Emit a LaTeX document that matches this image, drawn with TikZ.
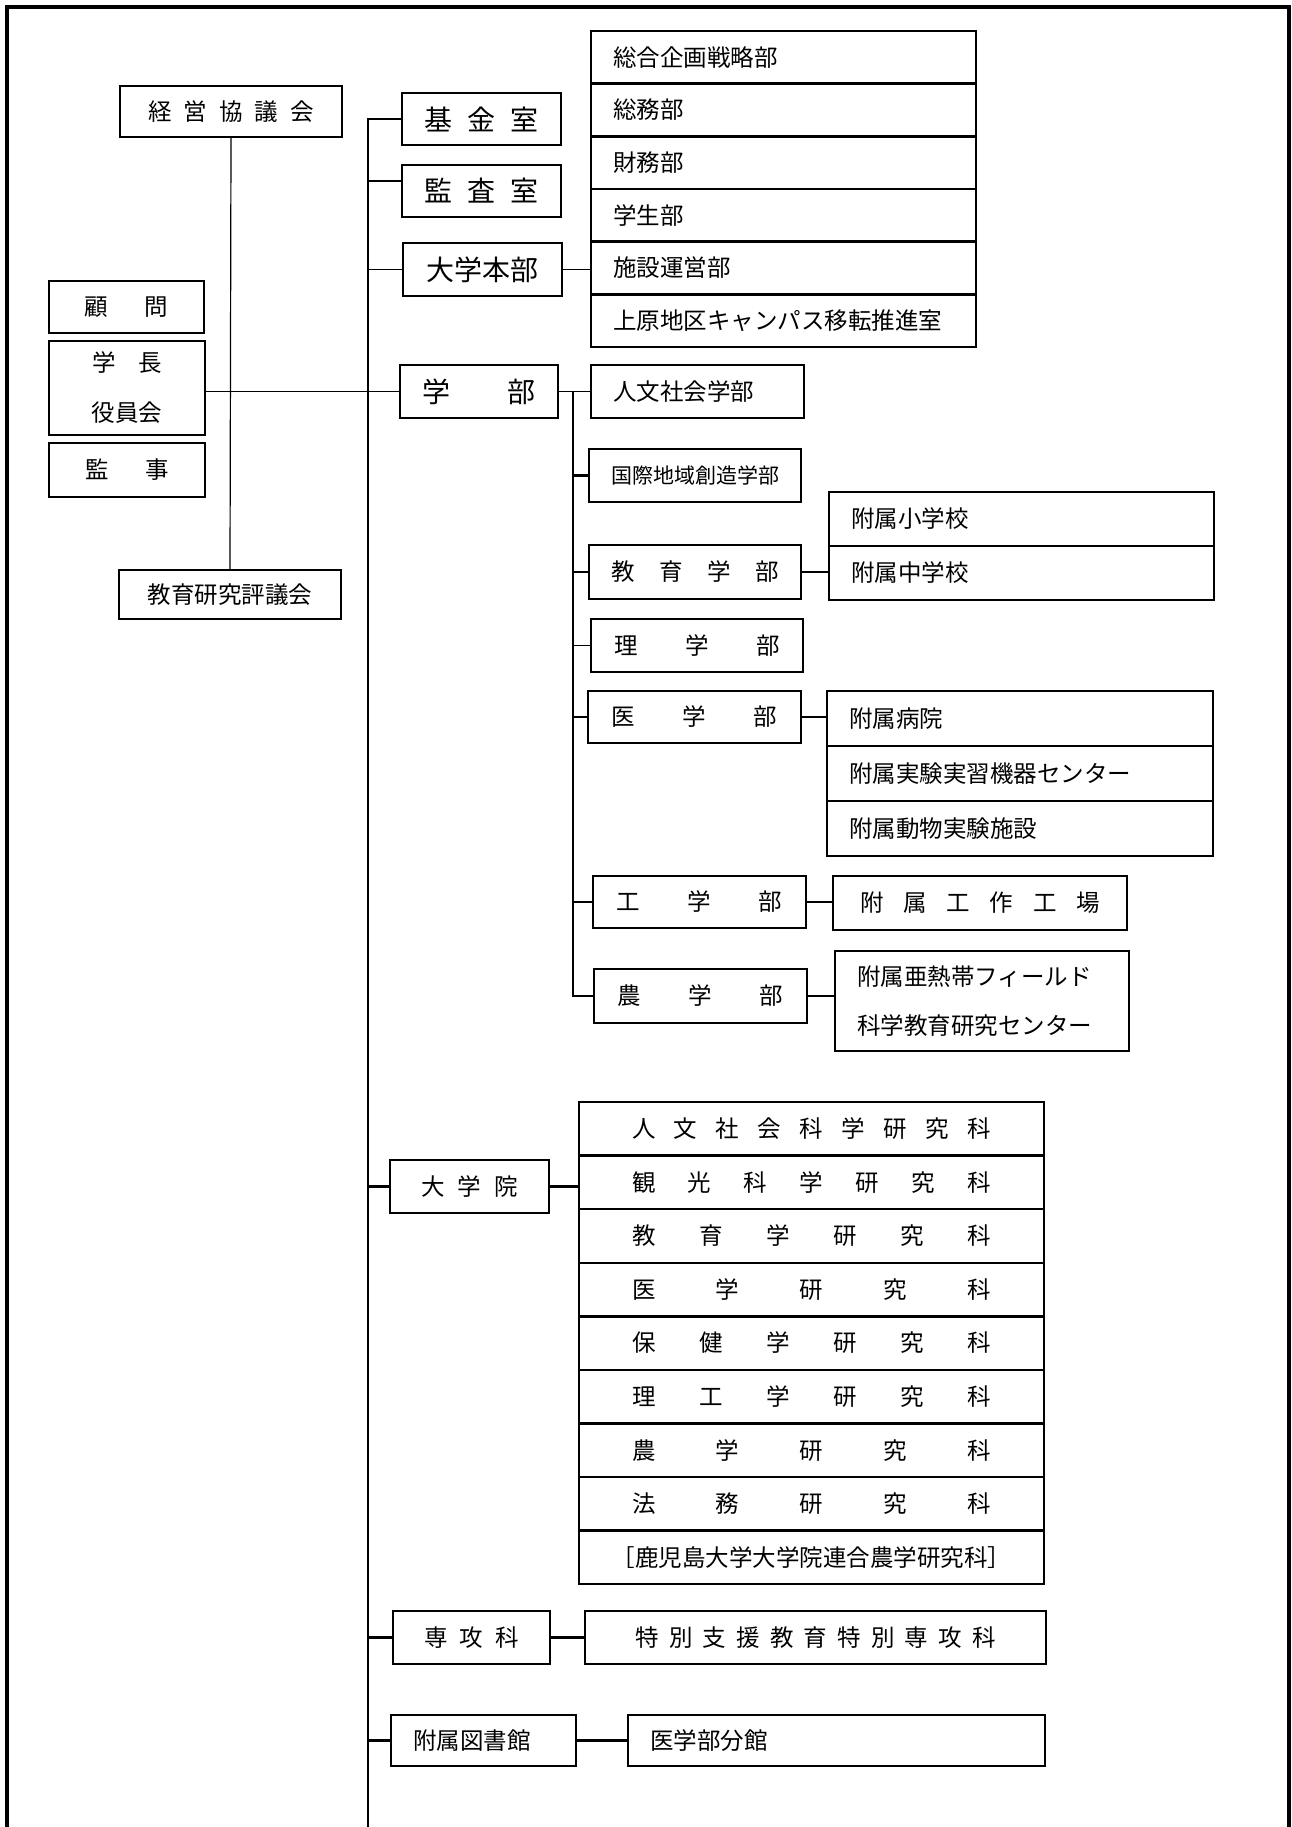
\documentclass[tikz,border=0pt]{standalone}
\usepackage{fontspec}
\setmainfont{Noto Sans CJK JP}

\tikzset{
  box/.style={draw=black, line width=2.4pt, inner sep=0pt, font=\fontsize{23.5}{28}\selectfont},
  bigbox/.style={box, font=\fontsize{28}{32}\selectfont},
  smallbox/.style={box, font=\fontsize{21}{26}\selectfont},
  lbox/.style={box, inner xsep=22pt, text width=#1, align=left},
  conn/.style={line width=2.2pt},
  thinconn/.style={line width=1.2pt},
}
\newcommand{\spreadtext}[2]{\makebox[#1]{#2}}

\begin{document}
\begin{tikzpicture}[x=1pt,y=-1pt]

\useasboundingbox (0,0) rectangle (1292,1827);
\draw[line width=4.5pt] (7,1827) -- (7,7) -- (1289,7) -- (1289,1827);

\node[box, minimum width=222pt, minimum height=51pt] (keiei) at (231,111.5) {\spreadtext{166pt}{経\hfill 営\hfill 協\hfill 議\hfill 会}};
\node[box, minimum width=155pt, minimum height=52pt] (komon) at (126.5,307) {\spreadtext{84pt}{顧\hfill 問}};
\node[box, minimum width=156pt, minimum height=94pt, align=center, font=\fontsize{23.5}{50}\selectfont] (gakucho) at (127,388) {\spreadtext{70pt}{学\hfill 長}\\役員会};
\node[box, minimum width=156pt, minimum height=54pt] (kanji) at (127,470) {\spreadtext{84pt}{監\hfill 事}};
\node[box, minimum width=222pt, minimum height=49pt] (hyogi) at (230,594.5) {教育研究評議会};

\node[bigbox, minimum width=159pt, minimum height=52pt] (kikin) at (481.5,119) {\spreadtext{114pt}{基\hfill 金\hfill 室}};
\node[bigbox, minimum width=159pt, minimum height=52pt] (kansa) at (481.5,191) {\spreadtext{114pt}{監\hfill 査\hfill 室}};
\node[bigbox, minimum width=159pt, minimum height=53pt] (honbu) at (482.5,269.5) {大学本部};
\node[bigbox, minimum width=158pt, minimum height=53pt] (gakubu) at (479,391.5) {\spreadtext{114pt}{学\hfill 部}};

\node[lbox=341pt, minimum height=52.7pt] (senryaku) at (783.5,57.3) {総合企画戦略部};
\node[lbox=341pt, minimum height=52.7pt] (somu) at (783.5,110) {総務部};
\node[lbox=341pt, minimum height=52.7pt] (zaimu) at (783.5,162.6) {財務部};
\node[lbox=341pt, minimum height=52.7pt] (gakusei) at (783.5,215.3) {学生部};
\node[lbox=341pt, minimum height=52.7pt] (shisetsu) at (783.5,268) {施設運営部};
\node[lbox=341pt, minimum height=52.7pt] (uehara) at (783.5,320.7) {上原地区キャンパス移転推進室};

\node[lbox=169pt, minimum height=53pt] (jinbun) at (697.5,391.5) {人文社会学部};
\node[lbox=168pt, smallbox, inner xsep=22pt, minimum height=53pt] (kokusai) at (695,475.5) {国際地域創造学部};
\node[box, minimum width=212pt, minimum height=54pt] (kyoiku) at (695,572) {\spreadtext{168pt}{教\hfill 育\hfill 学\hfill 部}};
\node[box, minimum width=212pt, minimum height=53pt] (rigaku) at (697,645.5) {\spreadtext{166pt}{理\hfill 学\hfill 部}};
\node[box, minimum width=213pt, minimum height=52pt] (igaku) at (694.5,717) {\spreadtext{166pt}{医\hfill 学\hfill 部}};
\node[box, minimum width=213pt, minimum height=52pt] (kogaku) at (699.5,902) {\spreadtext{166pt}{工\hfill 学\hfill 部}};
\node[box, minimum width=213pt, minimum height=54pt] (nogaku) at (700.5,996) {\spreadtext{166pt}{農\hfill 学\hfill 部}};

\node[lbox=341pt, minimum height=54pt] (shogaku) at (1021.5,519) {附属小学校};
\node[lbox=341pt, minimum height=54pt] (chugaku) at (1021.5,573) {附属中学校};

\node[lbox=342pt, minimum height=55pt] (byoin) at (1020,718.5) {附属病院};
\node[lbox=342pt, minimum height=55pt] (kiki) at (1020,773.5) {附属実験実習機器センター};
\node[lbox=342pt, minimum height=55pt] (dobutsu) at (1020,828.5) {附属動物実験施設};

\node[box, minimum width=294pt, minimum height=54pt] (kosaku) at (980,903) {\spreadtext{240pt}{附\hfill 属\hfill 工\hfill 作\hfill 工\hfill 場}};
\node[lbox=250pt, minimum height=100pt, font=\fontsize{23.5}{49}\selectfont] (anettai) at (982,1001) {附属亜熱帯フィールド\\科学教育研究センター};

\node[box, minimum width=159pt, minimum height=53pt] (daigakuin) at (469.5,1186.5) {\spreadtext{97pt}{大\hfill 学\hfill 院}};

\node[box, minimum width=465pt, minimum height=53.6pt] (gs1) at (811.5,1128.8) {\spreadtext{359pt}{人\hfill 文\hfill 社\hfill 会\hfill 科\hfill 学\hfill 研\hfill 究\hfill 科}};
\node[box, minimum width=465pt, minimum height=53.6pt] (gs2) at (811.5,1182.3) {\spreadtext{359pt}{観\hfill 光\hfill 科\hfill 学\hfill 研\hfill 究\hfill 科}};
\node[box, minimum width=465pt, minimum height=53.6pt] (gs3) at (811.5,1235.9) {\spreadtext{359pt}{教\hfill 育\hfill 学\hfill 研\hfill 究\hfill 科}};
\node[box, minimum width=465pt, minimum height=53.6pt] (gs4) at (811.5,1289.5) {\spreadtext{359pt}{医\hfill 学\hfill 研\hfill 究\hfill 科}};
\node[box, minimum width=465pt, minimum height=53.6pt] (gs5) at (811.5,1343) {\spreadtext{359pt}{保\hfill 健\hfill 学\hfill 研\hfill 究\hfill 科}};
\node[box, minimum width=465pt, minimum height=53.6pt] (gs6) at (811.5,1396.6) {\spreadtext{359pt}{理\hfill 工\hfill 学\hfill 研\hfill 究\hfill 科}};
\node[box, minimum width=465pt, minimum height=53.6pt] (gs7) at (811.5,1450.1) {\spreadtext{359pt}{農\hfill 学\hfill 研\hfill 究\hfill 科}};
\node[box, minimum width=465pt, minimum height=53.6pt] (gs8) at (811.5,1503.7) {\spreadtext{359pt}{法\hfill 務\hfill 研\hfill 究\hfill 科}};
\node[box, minimum width=465pt, minimum height=53.6pt] (gs9) at (811.5,1557.2) {［鹿児島大学大学院連合農学研究科］};

\node[box, minimum width=157pt, minimum height=53pt] (senkoka) at (471.5,1637.5) {\spreadtext{95pt}{専\hfill 攻\hfill 科}};
\node[box, minimum width=461pt, minimum height=53pt] (tokubetsu) at (815.5,1637.5) {\spreadtext{360pt}{特\hfill 別\hfill 支\hfill 援\hfill 教\hfill 育\hfill 特\hfill 別\hfill 専\hfill 攻\hfill 科}};

\node[lbox=141pt, minimum height=51pt] (toshokan) at (483.5,1740.5) {附属図書館};
\node[lbox=373pt, minimum height=51pt] (bunkan) at (836.5,1740.5) {医学部分館};

\coordinate (spine) at (368,118);
\coordinate (spineend) at (368,1827);
\coordinate (fork) at (573,391.5);

\draw[thinconn] (keiei.south) -- (hyogi.north);
\draw[thinconn] (gakucho.east |- gakubu.west) -- (gakubu.west);

\draw[conn] (kikin.west) -| (spineend);
\draw[conn] ([yshift=10pt]kansa.west) -- ([yshift=10pt]kansa.west -| spine);
\draw[thinconn] (honbu.west) -- (honbu.west -| spine);
\draw[thinconn] (honbu.east) -- (honbu.east -| shisetsu.west);

\draw[thinconn] (gakubu.east) -- (jinbun.west);
\draw[conn] (fork) |- (nogaku.west);
\draw[conn] (kokusai.west) -- (kokusai.west -| fork);
\draw[conn] (kyoiku.west) -- (kyoiku.west -| fork);
\draw[thinconn] (rigaku.west) -- (rigaku.west -| fork);
\draw[conn] (igaku.west) -- (igaku.west -| fork);
\draw[conn] (kogaku.west) -- (kogaku.west -| fork);

\draw[conn] (kyoiku.east) -- (kyoiku.east -| chugaku.west);
\draw[conn] (igaku.east) -- (igaku.east -| byoin.west);
\draw[conn] (kogaku.east) -- (kogaku.east -| kosaku.west);
\draw[conn] (nogaku.east) -- (nogaku.east -| anettai.west);

\draw[conn] (daigakuin.west) -- (daigakuin.west -| spine);
\draw[conn] (daigakuin.east) -- (daigakuin.east -| gs2.west);
\draw[conn] (senkoka.west) -- (senkoka.west -| spine);
\draw[conn] (senkoka.east) -- (tokubetsu.west);
\draw[conn] (toshokan.west) -- (toshokan.west -| spine);
\draw[conn] (toshokan.east) -- (bunkan.west);

\end{tikzpicture}
\end{document}
